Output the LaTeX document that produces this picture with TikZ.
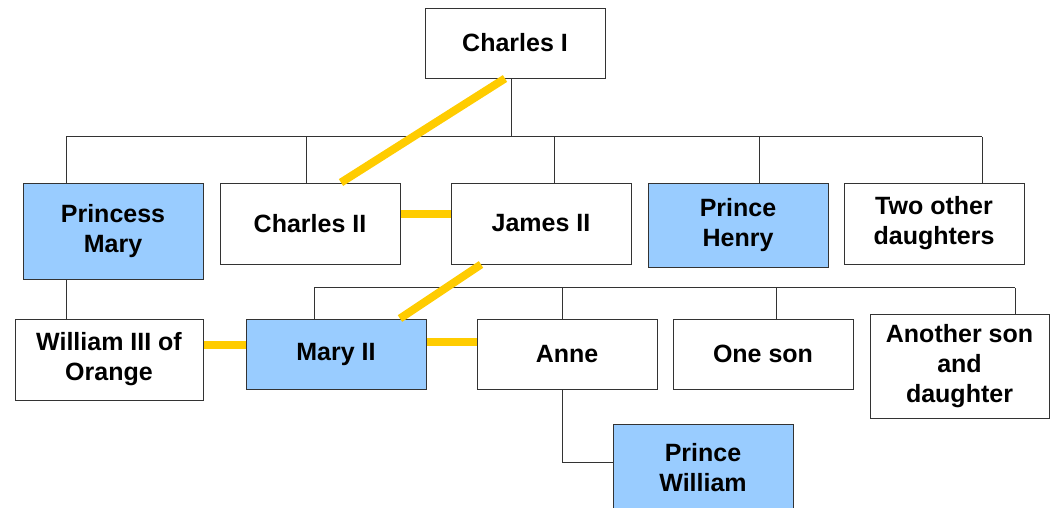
\documentclass[tikz,border=0pt]{standalone}
\usepackage{fontspec}
\setmainfont{Liberation Sans}
\tikzset{
person/.style={draw=black!80, line width=1pt, fill=white, align=center,
  inner sep=0pt, font=\fontsize{25}{30}\selectfont\bfseries},
royal/.style={person, fill=royalblue},
tree/.style={draw=black!80, line width=1pt},
wed/.style={draw=crownyellow, line width=8pt}
}
\definecolor{royalblue}{HTML}{99CCFF}
\definecolor{crownyellow}{HTML}{FFCC00}

\begin{document}
\begin{tikzpicture}[x=1pt, y=-1pt]
  \useasboundingbox (0,0) rectangle (1052,507);
  % first generation
  \node[person, minimum width=180pt, minimum height=70pt] (charlesI) at (515,43) {Charles I};
  % children of Charles I
  \node[royal, minimum width=180pt, minimum height=96pt] (pmary) at (113,231) {Princess\\Mary};
  \node[person, minimum width=180pt, minimum height=81pt] (charlesII) at (310,223.5) {Charles II};
  \node[person, minimum width=180pt, minimum height=81pt] (jamesII) at (541,223.5) {James II};
  \node[royal, minimum width=180pt, minimum height=84pt] (henry) at (738,225) {Prince\\Henry};
  \node[person, minimum width=180pt, minimum height=81pt] (daughters) at (934,223.5) {Two other\\daughters};
  % grandchildren
  \node[person, minimum width=188pt, minimum height=81pt] (williamIII) at (109,359.5) {William III of\\Orange};
  \node[royal, minimum width=180pt, minimum height=70pt] (maryII) at (336,354) {Mary II};
  \node[person, minimum width=180pt, minimum height=70pt] (anne) at (567,354) {Anne};
  \node[person, minimum width=180pt, minimum height=70pt] (oneson) at (763,354) {One son};
  \node[person, minimum width=179pt, minimum height=104pt] (another) at (959.5,366) {Another son\\and\\daughter};
  \node[royal, minimum width=180pt, minimum height=88pt] (pwilliam) at (703,468) {Prince\\William};

  \coordinate (busA) at (0,136.5);
  \coordinate (busB) at (0,287.5);

  % family tree lines
  \draw[tree] ([xshift=-4pt]charlesI.south) -- ([xshift=-4pt]charlesI.south |- busA);
  \draw[tree] ([xshift=-47pt]pmary.north |- busA) -- ([xshift=48pt]daughters.north |- busA);
  \foreach \n/\dx in {pmary/-47, charlesII/-4, jamesII/13, henry/21, daughters/48}
    \draw[tree] ([xshift=\dx pt]\n.north) -- ([xshift=\dx pt]\n.north |- busA);
  \draw[tree] ([xshift=-22pt]maryII.north |- busB) -- ([xshift=55.5pt]another.north |- busB);
  \foreach \n/\dx in {maryII/-22, anne/-5, oneson/13, another/55.5}
    \draw[tree] ([xshift=\dx pt]\n.north) -- ([xshift=\dx pt]\n.north |- busB);
  \draw[tree] ([xshift=-47pt]pmary.south) -- ([xshift=-47pt]pmary.south |- williamIII.north);
  \draw[tree] ([xshift=-5pt]anne.south) |- ([yshift=6pt]pwilliam.west);

  % line of succession
  \draw[wed] ([xshift=-10pt]charlesI.south) -- ([xshift=31pt]charlesII.north);
  \draw[wed] ([yshift=9.5pt]charlesII.east) -- ([yshift=9.5pt]jamesII.west);
  \draw[wed] ([xshift=-60pt]jamesII.south) -- ([xshift=64pt]maryII.north);
  \draw[wed] ([yshift=14.5pt]williamIII.east) -- ([yshift=9pt]maryII.west);
  \draw[wed] ([yshift=12pt]maryII.east) -- ([yshift=12pt]anne.west);
\end{tikzpicture}
\end{document}
